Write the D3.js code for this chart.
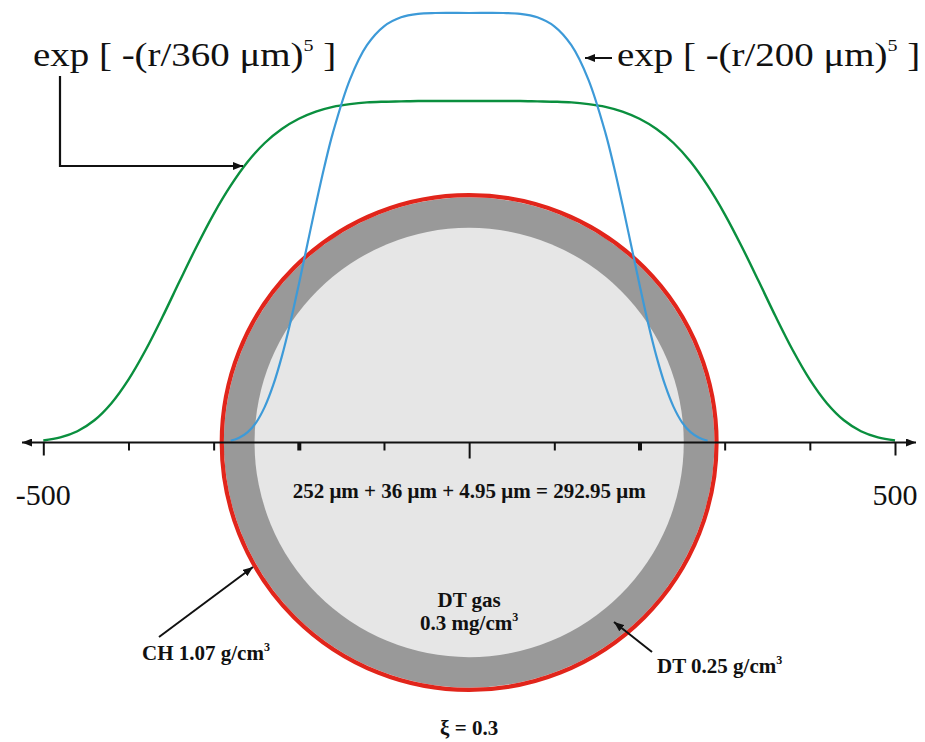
<!DOCTYPE html>
<html><head><meta charset="utf-8">
<script src="https://cdn.jsdelivr.net/npm/d3@7"></script>
<style>body{margin:0;background:#fff} svg{display:block}</style>
</head><body>
<svg id="c" width="925" height="742"></svg>
<script>
// ---- data ----
const tickValues = [-500,-400,-300,-200,-100,0,100,200,300,400,500];
const tickLabels = ["-500","500"];
const tickLabelValues = [-500, 500];
const shellThickness = [252, 36, 4.95];           // DT gas radius, DT ice, CH ablator (µm)
const shellColors = ["#e6e6e6", "#999999", "#e1251b"];
// green profile exp[-(r/360)^5], half profile (mirrored)
const rGreen = [0,20,40,60,80,100,120,140,160,180,200,220,240,260,280,300,320,340,360,380,400,420,440,460,480,500];
const gGreen = [1.000,1.000,1.000,1.000,0.999,0.998,0.996,0.991,0.983,0.969,0.948,0.918,0.877,0.822,0.752,0.669,0.574,0.472,0.368,0.270,0.184,0.115,0.065,0.033,0.015,0.006];
// blue profile exp[-(r/200)^5]
const rBlue = [0,40,60,80,100,120,140,160,170,180,190,200,210,220,230,240,250,260,270,280];
const bBlue = [1.000,1.000,0.998,0.990,0.969,0.925,0.845,0.721,0.642,0.554,0.461,0.368,0.279,0.200,0.134,0.083,0.047,0.024,0.011,0.004];

// ---- layout ----
const svg = d3.select("#c");
const axisY = 442.5;
const x = d3.scaleLinear().domain([-500, 500]).range([43.3, 895]);
const yG = d3.scaleLinear().domain([0, 1]).range([axisY, 101]);
const yB = d3.scaleLinear().domain([0, 1]).range([axisY, 13]);
const serif = "'Liberation Serif','Times New Roman',serif";

const defs = svg.append("defs");
defs.append("marker").attr("id","ah").attr("viewBox","0 0 10 8")
  .attr("refX",10).attr("refY",4).attr("markerWidth",10).attr("markerHeight",8)
  .attr("markerUnits","userSpaceOnUse").attr("orient","auto-start-reverse")
  .append("path").attr("d","M0,0 L10,4 L0,8 Z").attr("fill","#111");

// ---- shells ----
const cx = x(0);
const rInner = shellThickness[0];
const rMid = shellThickness[0] + shellThickness[1];
const rOuter = rMid + shellThickness[2];
const px = r => x(r) - x(0);
svg.append("circle").attr("cx",cx).attr("cy",axisY).attr("r",px(rMid)).attr("fill",shellColors[1]);
svg.append("circle").attr("cx",cx).attr("cy",axisY).attr("r",px(rInner)).attr("fill",shellColors[0]);
svg.append("circle").attr("cx",cx).attr("cy",axisY).attr("r",(px(rMid)+px(rOuter))/2)
  .attr("fill","none").attr("stroke",shellColors[2]).attr("stroke-width",px(rOuter)-px(rMid));

// ---- curves ----
function mirror(rs, vs){
  const pts = [];
  for (let i = rs.length-1; i > 0; i--) pts.push([-rs[i], vs[i]]);
  for (let i = 0; i < rs.length; i++) pts.push([rs[i], vs[i]]);
  return pts;
}
const lineG = d3.line().x(d=>x(d[0])).y(d=>yG(d[1])).curve(d3.curveCatmullRom);
const lineB = d3.line().x(d=>x(d[0])).y(d=>yB(d[1])).curve(d3.curveCatmullRom);
svg.append("path").attr("d", lineG(mirror(rGreen,gGreen))).attr("fill","none")
  .attr("stroke","#0a8f3e").attr("stroke-width",2.4);
svg.append("path").attr("d", lineB(mirror(rBlue,bBlue))).attr("fill","none")
  .attr("stroke","#3d9ad8").attr("stroke-width",2.2);

// ---- axis ----
const ax = svg.append("g").attr("transform",`translate(0,${axisY})`)
  .call(d3.axisBottom(x).tickValues(tickValues).tickSize(8).tickFormat(""));
ax.select(".domain").remove();
ax.selectAll(".tick line").attr("stroke","#111")
  .attr("stroke-width", d => Math.abs(d)===200 ? 4 : 2)
  .attr("y2", d => Math.abs(d)===500 ? 13 : (d===0 ? 16 : 8));
svg.append("line").attr("x1",22).attr("x2",916).attr("y1",axisY).attr("y2",axisY)
  .attr("stroke","#111").attr("stroke-width",2)
  .attr("marker-start","url(#ah)").attr("marker-end","url(#ah)");
svg.selectAll(".tl").data(tickLabelValues).enter().append("text")
  .attr("x",d=>x(d)).attr("y",505).attr("text-anchor","middle")
  .attr("font-family",serif).attr("font-size",30).attr("fill","#111")
  .text((d,i)=>tickLabels[i]);

// ---- function labels ----
function expLabel(tx, ty, num){
  const t = svg.append("text").attr("transform",`translate(${tx},${ty}) scale(1.18,1)`)
    .attr("font-family",serif).attr("font-size",33).attr("fill","#111");
  t.append("tspan").text(`exp [ -(r/${num} \u03bcm)`);
  t.append("tspan").attr("font-size",17).attr("dy",-15).text("5");
  t.append("tspan").attr("dy",15).text(" ]");
}
expLabel(33, 66, 360);
expLabel(617, 66, 200);
svg.append("path").attr("d","M60,76 V166 H243").attr("fill","none")
  .attr("stroke","#111").attr("stroke-width",2.2).attr("marker-end","url(#ah)");
svg.append("line").attr("x1",612).attr("x2",585).attr("y1",58).attr("y2",58)
  .attr("stroke","#111").attr("stroke-width",2).attr("marker-end","url(#ah)");

// ---- bold annotations ----
function boldText(tx, ty, main, sup, anchor){
  const t = svg.append("text").attr("x",tx).attr("y",ty).attr("text-anchor",anchor||"start")
    .attr("font-family",serif).attr("font-weight","bold").attr("font-size",21).attr("fill","#111");
  t.append("tspan").text(main);
  if (sup) t.append("tspan").attr("font-size",12).attr("dy",-9).text(sup);
  return t;
}
boldText(cx, 498, `${rInner} \u03bcm + ${shellThickness[1]} \u03bcm + ${shellThickness[2]} \u03bcm = ${rOuter.toFixed(2)} \u03bcm`, null, "middle");
boldText(cx, 607, "DT gas", null, "middle");
boldText(cx, 630, "0.3 mg/cm", "3", "middle");
boldText(142, 660, "CH 1.07 g/cm", "3");
boldText(657, 673, "DT 0.25 g/cm", "3");
boldText(cx, 735, "\u03be = 0.3", null, "middle");

svg.append("line").attr("x1",159).attr("y1",637).attr("x2",253).attr("y2",567)
  .attr("stroke","#111").attr("stroke-width",2).attr("marker-end","url(#ah)");
svg.append("line").attr("x1",652).attr("y1",652).attr("x2",614).attr("y2",622)
  .attr("stroke","#111").attr("stroke-width",2).attr("marker-end","url(#ah)");
</script>
</body></html>
